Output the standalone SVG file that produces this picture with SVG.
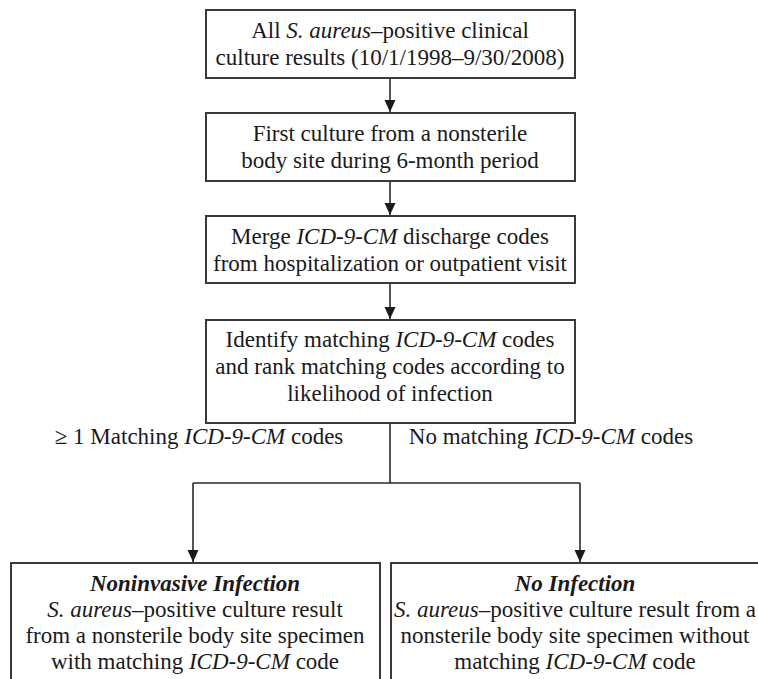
<svg xmlns="http://www.w3.org/2000/svg" width="758" height="679" viewBox="0 0 758 679">
<style>
.box{fill:#fff;stroke:#3a3a3a;stroke-width:2}
.t{font-family:"Liberation Serif","Times New Roman",serif;font-size:23px;fill:#1a1a1a;text-anchor:middle}
.i{font-style:italic}
.bi{font-style:italic;font-weight:bold}
.c{fill:none;stroke:#2a2a2a;stroke-width:1.6}
</style>
<defs>
<marker id="ah" markerWidth="12" markerHeight="12" refX="12" refY="6" orient="auto" markerUnits="userSpaceOnUse">
<path d="M0,0.5 L12,6 L0,11.5 z" fill="#1a1a1a"/>
</marker>
</defs>
<rect width="758" height="679" fill="#fff"/>
<g id="connectors">
<line class="c" x1="390" y1="78" x2="390" y2="112" marker-end="url(#ah)"/>
<line class="c" x1="390" y1="181" x2="390" y2="215" marker-end="url(#ah)"/>
<line class="c" x1="390" y1="283" x2="390" y2="319" marker-end="url(#ah)"/>
<polyline class="c" points="390,423 390,483"/>
<line class="c" x1="193" y1="483" x2="580" y2="483"/>
<line class="c" x1="193" y1="483" x2="193" y2="562" marker-end="url(#ah)"/>
<line class="c" x1="580" y1="483" x2="580" y2="562" marker-end="url(#ah)"/>
<text class="t" x="199" y="444">≥ 1 Matching <tspan class="i">ICD-9-CM</tspan> codes</text>
<text class="t" x="551" y="444">No matching <tspan class="i">ICD-9-CM</tspan> codes</text>
</g>
<g id="n1">
<rect class="box" x="206" y="10" width="369" height="68"/>
<text class="t" x="390" y="38">All <tspan class="i">S. aureus</tspan>–positive clinical</text>
<text class="t" x="390" y="65">culture results (10/1/1998–9/30/2008)</text>
</g>
<g id="n2">
<rect class="box" x="206" y="113" width="369" height="68"/>
<text class="t" x="390" y="141">First culture from a nonsterile</text>
<text class="t" x="390" y="168">body site during 6-month period</text>
</g>
<g id="n3">
<rect class="box" x="206" y="216" width="369" height="67"/>
<text class="t" x="390" y="244">Merge <tspan class="i">ICD-9-CM</tspan> discharge codes</text>
<text class="t" x="390" y="271">from hospitalization or outpatient visit</text>
</g>
<g id="n4">
<rect class="box" x="206" y="320" width="369" height="103"/>
<text class="t" x="390" y="347">Identify matching <tspan class="i">ICD-9-CM</tspan> codes</text>
<text class="t" x="390" y="374">and rank matching codes according to</text>
<text class="t" x="390" y="401">likelihood of infection</text>
</g>
<g id="n5">
<rect class="box" x="11" y="563" width="369" height="130"/>
<text class="t bi" x="195" y="591">Noninvasive Infection</text>
<text class="t" x="195" y="617"><tspan class="i">S. aureus</tspan>–positive culture result</text>
<text class="t" x="195" y="643">from a nonsterile body site specimen</text>
<text class="t" x="195" y="669">with matching <tspan class="i">ICD-9-CM</tspan> code</text>
</g>
<g id="n6">
<rect class="box" x="391" y="563" width="380" height="130"/>
<text class="t bi" x="575" y="591">No Infection</text>
<text class="t" x="575" y="617"><tspan class="i">S. aureus</tspan>–positive culture result from a</text>
<text class="t" x="575" y="643">nonsterile body site specimen without</text>
<text class="t" x="575" y="669">matching <tspan class="i">ICD-9-CM</tspan> code</text>
</g>
</svg>
